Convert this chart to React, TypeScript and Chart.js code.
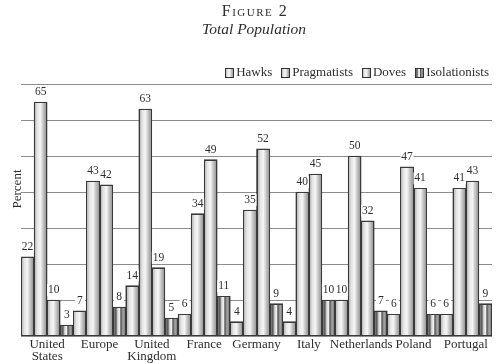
import React, { useEffect, useRef } from 'react';
import { Chart, registerables } from 'chart.js';
Chart.register(...registerables);

const categories: (string | string[])[] = [
  ['United', 'States'], 'Europe', ['United', 'Kingdom'], 'France', 'Germany',
  'Italy', 'Netherlands', 'Poland', 'Portugal',
];
const seriesNames = ['Hawks', 'Pragmatists', 'Doves', 'Isolationists'];
const hawks = [22, 7, 14, 6, 4, 4, 10, 6, 6];
const pragmatists = [65, 43, 63, 34, 35, 40, 50, 47, 41];
const doves = [10, 42, 19, 49, 52, 45, 32, 41, 43];
const isolationists = [3, 8, 5, 11, 9, 10, 7, 6, 9];
const yMin = 0;
const yMax = 70;
const yStep = 10;
const titleText = 'Figure 2';
const subtitleText = 'Total Population';
const yAxisTitle = 'Percent';

const FAMILY = '"Liberation Serif", "DejaVu Serif", serif';
const TEXT = '#2e2e2e';

const normalStops: [number, string][] = [
  [0, '#b0b0b0'], [0.25, '#e6e6e6'], [0.5, '#f5f5f5'], [0.7, '#cacaca'], [1, '#929292'],
];
const isoStops: [number, string][] = [
  [0, '#8a8a8a'], [0.2, '#555555'], [0.35, '#d8d8d8'], [0.5, '#eeeeee'], [0.62, '#555555'], [0.8, '#aaaaaa'], [1, '#707070'],
];

function makeGrad(ctx: CanvasRenderingContext2D, x0: number, x1: number, iso: boolean) {
  const g = ctx.createLinearGradient(x0, 0, x1, 0);
  (iso ? isoStops : normalStops).forEach(([o, c]) => g.addColorStop(o, c));
  return g;
}

const customPlugin = {
  id: 'custom',
  afterDatasetsDraw(chart: any) {
    const ctx: CanvasRenderingContext2D = chart.ctx;
    ctx.save();
    chart.data.datasets.forEach((ds: any, di: number) => {
      const meta = chart.getDatasetMeta(di);
      meta.data.forEach((el: any) => {
        const { x, y, base, width } = el.getProps(['x', 'y', 'base', 'width'], true);
        const l = Math.round(x - width / 2) + 0.5;
        const r = Math.round(x + width / 2) - 0.5;
        const t = Math.round(y) + 0.5;
        const b = Math.round(base) - 0.5;
        ctx.fillStyle = makeGrad(ctx, l, r, di === 3);
        ctx.fillRect(l, t, r - l, b - t);
        ctx.strokeStyle = '#3a3a3a';
        ctx.lineWidth = 1;
        ctx.strokeRect(l, t, r - l, b - t);
      });
    });
    ctx.font = `11.5px ${FAMILY}`;
    ctx.textAlign = 'center';
    ctx.textBaseline = 'middle';
    chart.data.datasets.forEach((ds: any, di: number) => {
      const meta = chart.getDatasetMeta(di);
      meta.data.forEach((el: any, i: number) => {
        const { x, y, width } = el.getProps(['x', 'y', 'width'], true);
        const txt = String(ds.data[i]);
        const w = Math.min(ctx.measureText(txt).width + 4, width);
        const cy = y - 10;
        ctx.fillStyle = '#ffffff';
        ctx.fillRect(x - w / 2, cy - 6, w, 12);
        ctx.fillStyle = TEXT;
        ctx.fillText(txt, x, cy);
      });
    });
    ctx.restore();
  },
  afterDraw(chart: any) {
    const ctx: CanvasRenderingContext2D = chart.ctx;
    ctx.save();
    ctx.fillStyle = TEXT;
    ctx.textBaseline = 'middle';
    ctx.textAlign = 'center';
    ctx.font = `small-caps 16px ${FAMILY}`;
    (ctx as any).letterSpacing = '1.5px';
    ctx.fillText(titleText, 255, 12);
    (ctx as any).letterSpacing = '0px';
    ctx.font = `italic 15.5px ${FAMILY}`;
    ctx.fillText(subtitleText, 254, 30);
    ctx.save();
    ctx.translate(18, 189);
    ctx.rotate(-Math.PI / 2);
    ctx.font = `13px ${FAMILY}`;
    ctx.fillText(yAxisTitle, 0, 0);
    ctx.restore();
    ctx.font = `13px ${FAMILY}`;
    ctx.textAlign = 'left';
    const boxW = 8, boxH = 9, gap = 3, itemGap = 9;
    const widths = seriesNames.map((n) => boxW + gap + ctx.measureText(n).width);
    const total = widths.reduce((a, b) => a + b, 0) + itemGap * (seriesNames.length - 1);
    let xPos = 489 - total;
    const cy = 72;
    seriesNames.forEach((n, i) => {
      const l = Math.round(xPos) + 0.5;
      const t = Math.round(cy - boxH / 2) + 0.5;
      ctx.fillStyle = makeGrad(ctx, l, l + boxW, i === 3);
      ctx.fillRect(l, t, boxW, boxH);
      ctx.strokeStyle = '#333';
      ctx.lineWidth = 1;
      ctx.strokeRect(l, t, boxW, boxH);
      ctx.fillStyle = TEXT;
      ctx.fillText(n, xPos + boxW + gap, cy + 1);
      xPos += widths[i] + itemGap;
    });
    ctx.restore();
  },
};

export default function App() {
  const ref = useRef<HTMLCanvasElement>(null);
  useEffect(() => {
    document.body.style.margin = '0';
    const canvas = ref.current!;
    const chart = new Chart(canvas, {
      type: 'bar',
      data: {
        labels: categories,
        datasets: [hawks, pragmatists, doves, isolationists].map((d, i) => ({
          label: seriesNames[i],
          data: d,
          backgroundColor: '#cccccc',
          borderColor: '#333333',
          borderWidth: 1,
          categoryPercentage: 1,
          barPercentage: 1,
        })),
      },
      options: {
        responsive: false,
        animation: false,
        devicePixelRatio: 1,
        layout: { padding: { top: 84, right: 8, bottom: 0, left: 0 } },
        plugins: {
          legend: { display: false },
          title: { display: false },
          tooltip: { enabled: false },
        },
        scales: {
          x: {
            grid: { display: false, drawTicks: false },
            border: { display: false },
            ticks: {
              color: TEXT,
              padding: 3,
              maxRotation: 0,
              autoSkip: false,
              font: { family: FAMILY, size: 13, lineHeight: '12px' },
            },
            afterFit: (s: any) => { s.height = 28; },
          },
          y: {
            min: yMin,
            max: yMax,
            ticks: { stepSize: yStep, display: false },
            grid: { color: '#8c8c8c', lineWidth: 1, drawTicks: false },
            border: { display: false },
            afterFit: (s: any) => { s.width = 21; },
          },
        },
      },
      plugins: [customPlugin],
    });
    return () => chart.destroy();
  }, []);
  return (
    <div style={{ width: 500, height: 364 }}>
      <canvas ref={ref} width={500} height={364} />
    </div>
  );
}
